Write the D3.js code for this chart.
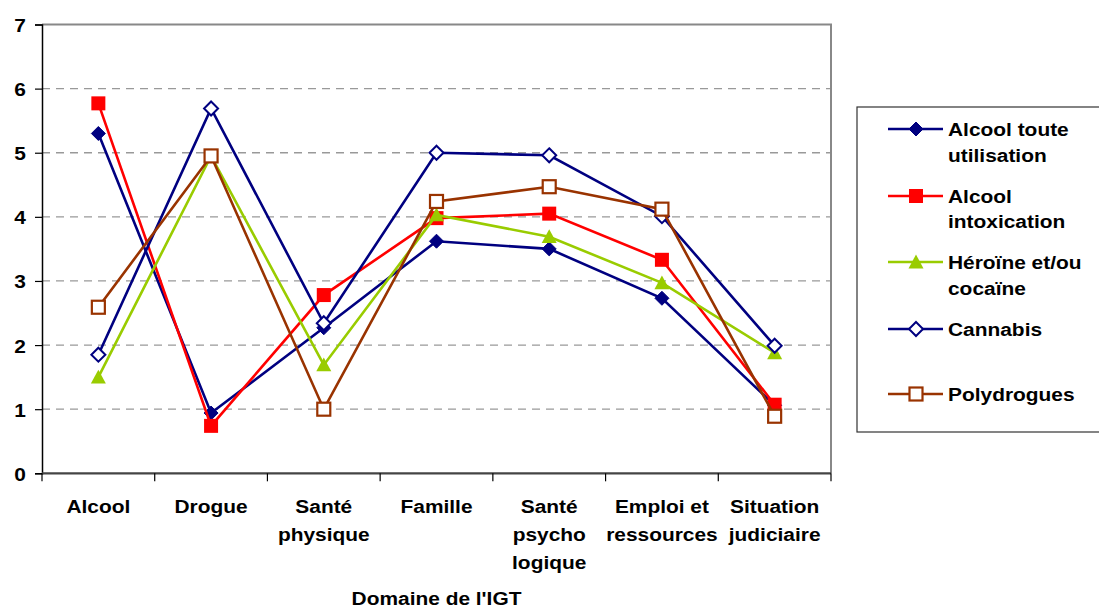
<!DOCTYPE html>
<html><head><meta charset="utf-8">
<script src="https://cdn.jsdelivr.net/npm/d3@7"></script>
<style>
html,body{margin:0;padding:0;background:#fff;}
svg{display:block;}
text{font-family:"Liberation Sans",Arial,sans-serif;font-weight:bold;fill:#000;}
</style></head><body>
<svg id="c" width="1099" height="610"></svg>
<script>
const categories = [["Alcool"],["Drogue"],["Santé","physique"],["Famille"],["Santé","psycho","logique"],["Emploi et","ressources"],["Situation","judiciaire"]];
const seriesNames = [["Alcool toute","utilisation"],["Alcool","intoxication"],["Héroïne et/ou","cocaïne"],["Cannabis"],["Polydrogues"]];
const alcoolToute = [5.3, 0.94, 2.27, 3.62, 3.5, 2.73, 1.06];
const alcoolIntox = [5.77, 0.74, 2.78, 3.98, 4.05, 3.33, 1.07];
const heroine = [1.5, 4.95, 1.69, 4.03, 3.69, 2.97, 1.88];
const cannabis = [1.85, 5.69, 2.34, 5.0, 4.96, 4.01, 1.99];
const polydrogues = [2.59, 4.95, 1.0, 4.24, 4.47, 4.12, 0.89];
const yTicks = [0,1,2,3,4,5,6,7];
const xTitle = "Domaine de l'IGT";

const colors = ["#000080","#FF0000","#99CC00","#000080","#993300"];
const markers = ["diamondFill","squareFill","triangle","diamondOpen","squareOpen"];
const allSeries = [alcoolToute, alcoolIntox, heroine, cannabis, polydrogues];

const SX = 1.1, FS = "19px";
const svg = d3.select("#c");
const L = 42, R = 831, T = 24.5, B = 473.3;
const x = d3.scaleBand().domain(d3.range(categories.length)).range([L, R]).paddingInner(0).paddingOuter(0);
const y = d3.scaleLinear().domain([0,7]).range([B, T]);

// gridlines
svg.append("g").selectAll("line").data(yTicks.filter(d=>d>0&&d<7)).join("line")
  .attr("x1", L).attr("x2", R).attr("y1", d=>y(d)).attr("y2", d=>y(d))
  .attr("stroke","#999").attr("stroke-width",1.3).attr("stroke-dasharray","8,6");

// top and right border
svg.append("path").attr("d", `M${L},${y(7)}H${R}V${B}`).attr("fill","none").attr("stroke","#888").attr("stroke-width",2);

// y axis
const yAxis = svg.append("g").attr("transform", `translate(${L},0)`)
  .call(d3.axisLeft(y).tickValues(yTicks).tickSize(7).tickPadding(0).tickFormat(d3.format("d")));
yAxis.select(".domain").attr("stroke","#000").attr("stroke-width",1.5);
yAxis.selectAll(".tick line").attr("stroke","#000").attr("stroke-width",1.2);
yAxis.selectAll(".tick text").attr("x",null).attr("dy",null)
  .attr("transform", `translate(-16,7) scale(${SX},1)`)
  .style("font-size",FS).style("font-family","Liberation Sans").style("font-weight","bold").attr("fill","#000");

// x axis (ticks at boundaries)
const bounds = d3.range(categories.length+1).map(i => i < categories.length ? x(i) : R);
const xg = svg.append("g");
xg.append("line").attr("x1",L).attr("x2",R).attr("y1",B).attr("y2",B).attr("stroke","#444").attr("stroke-width",2.2);
xg.selectAll("line.t").data(bounds).join("line").attr("class","t")
  .attr("x1",d=>d).attr("x2",d=>d).attr("y1",B).attr("y2",B+8).attr("stroke","#000").attr("stroke-width",1.2);

// category labels
const labG = svg.append("g");
categories.forEach((lines, i) => {
  const cx = x(i) + x.bandwidth()/2;
  lines.forEach((ln, j) => {
    labG.append("text").attr("text-anchor","middle")
      .attr("transform", `translate(${cx},${513 + j*28}) scale(${SX},1)`)
      .style("font-size",FS).text(ln);
  });
});
svg.append("text").attr("text-anchor","middle")
  .attr("transform", `translate(${(L+R)/2},${605}) scale(${SX},1)`)
  .style("font-size",FS).text(xTitle);

function drawMarker(g, type, color, cx, cy) {
  if (type === "diamondFill" || type === "diamondOpen") {
    const s = 7;
    g.append("path").attr("d", `M${cx},${cy-s}L${cx+s},${cy}L${cx},${cy+s}L${cx-s},${cy}Z`)
      .attr("fill", type==="diamondFill"?color:"#fff").attr("stroke",color).attr("stroke-width",type==="diamondFill"?1:2);
  } else if (type === "squareFill" || type === "squareOpen") {
    const s = type==="squareFill"?7:6.5;
    g.append("rect").attr("x",cx-s).attr("y",cy-s).attr("width",2*s).attr("height",2*s)
      .attr("fill", type==="squareFill"?color:"#fff").attr("stroke",color).attr("stroke-width",type==="squareFill"?0:2.2);
  } else if (type === "triangle") {
    const s = 7.5;
    g.append("path").attr("d", `M${cx},${cy-s}L${cx+s},${cy+s*0.85}L${cx-s},${cy+s*0.85}Z`).attr("fill",color);
  }
}

const line = d3.line().x((d,i)=>x(i)+x.bandwidth()/2).y(d=>y(d));
allSeries.forEach((vals, si) => {
  const g = svg.append("g");
  g.append("path").datum(vals).attr("d", line).attr("fill","none")
    .attr("stroke", colors[si]).attr("stroke-width", 2.6).attr("stroke-linejoin","miter");
  vals.forEach((v,i) => drawMarker(g, markers[si], colors[si], x(i)+x.bandwidth()/2, y(v)));
});

// legend
const lg = svg.append("g");
lg.append("rect").attr("x",857).attr("y",107).attr("width",260).attr("height",325)
  .attr("fill","#fff").attr("stroke","#333").attr("stroke-width",1.2);
const legY = [[129,155],[196,221],[262,288],[329],[394]];
seriesNames.forEach((lines, si) => {
  const ys = legY[si];
  const my = ys[0];
  lg.append("line").attr("x1",888).attr("x2",943).attr("y1",my).attr("y2",my)
    .attr("stroke",colors[si]).attr("stroke-width",2.6);
  drawMarker(lg, markers[si], colors[si], 916, my);
  lines.forEach((ln,j) => {
    lg.append("text").attr("transform", `translate(948,${ys[j]+7}) scale(${SX},1)`)
      .style("font-size",FS).text(ln);
  });
});
</script>
</body></html>
